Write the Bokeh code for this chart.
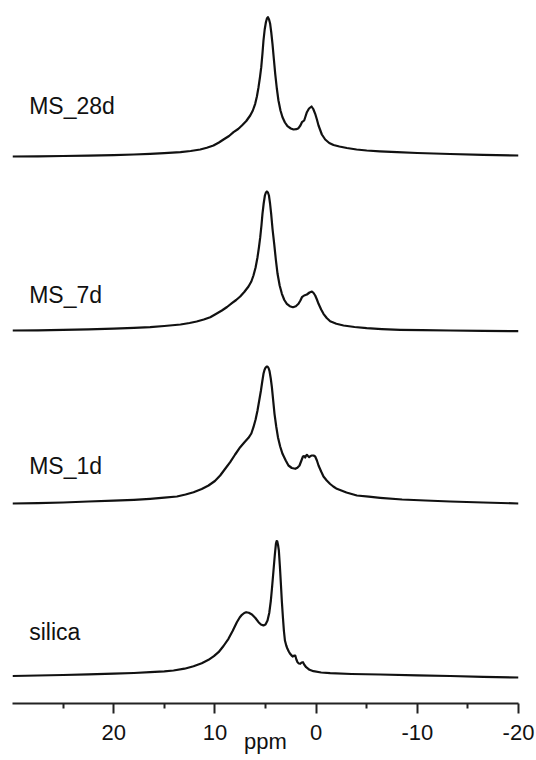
from bokeh.plotting import figure
from bokeh.models import Range1d, FixedTicker, ColumnDataSource
from bokeh.core.properties import value
from bokeh.embed import file_html
from bokeh.resources import INLINE

# ---- data ----
labels = ["MS_28d", "MS_7d", "MS_1d", "silica"]
offsets = [547.0, 373.0, 200.0, 27.5]   # vertical stacking offsets (a.u.)
label_gap = [51.0, 36.0, 38.0, 44.0]

ms28_ppm = [30.0, 27.5, 25.0, 22.5, 20.0, 18.0, 16.4, 15.0, 13.4, 12.4, 11.45, 10.8, 10.14, 9.6, 9.15,
            8.6, 8.16, 7.7, 7.33, 6.9, 6.51, 6.25, 6.02, 5.85, 5.69, 5.55, 5.42, 5.30, 5.20, 5.08,
            4.96, 4.86, 4.76, 4.65, 4.54, 4.43, 4.31, 4.17, 4.04, 3.88, 3.72, 3.52, 3.32, 3.08, 2.83,
            2.5, 2.23, 1.95, 1.74, 1.55, 1.40, 1.18, 1.05, 0.91, 0.70, 0.45, 0.28, 0.09, -0.08, -0.24,
            -0.57, -0.9, -1.3, -1.72, -2.3, -3.04, -4.0, -5.0, -6.3, -8.0, -10.0, -13.25, -16.5, -20.0]
ms28_int = [0.0, 0.2, 0.5, 0.9, 1.4, 2.0, 2.7, 3.4, 4.3, 5.5, 7.0, 8.8, 11.0, 14.0, 17.0,
            20.5, 24.3, 27.5, 31.0, 35.5, 41.0, 46.0, 52.7, 60.0, 69.3, 79.0, 89.3, 103.0, 116.0, 127.0,
            134.3, 138.0, 139.3, 137.0, 132.7, 124.0, 112.7, 97.0, 82.7, 68.0, 56.0, 46.0, 39.3, 34.0, 30.3,
            28.0, 27.0, 27.3, 28.3, 31.0, 34.3, 36.0, 40.0, 44.3, 48.0, 50.0, 47.5, 42.7, 37.0, 31.0,
            22.0, 17.0, 13.5, 11.5, 10.0, 8.5, 7.0, 6.0, 5.2, 4.3, 3.5, 2.5, 1.7, 1.0]

ms7_ppm = [30.0, 27.5, 25.0, 22.5, 20.0, 18.0, 16.4, 15.0, 13.4, 12.5, 11.8, 11.1, 10.46, 9.9, 9.31,
           8.8, 8.32, 7.9, 7.5, 7.1, 6.68, 6.4, 6.19, 5.98, 5.79, 5.65, 5.52, 5.40, 5.30, 5.18,
           5.06, 4.96, 4.86, 4.76, 4.66, 4.55, 4.44, 4.30, 4.14, 3.98, 3.81, 3.6, 3.38, 3.14, 2.89,
           2.6, 2.29, 2.0, 1.74, 1.55, 1.40, 1.18, 0.91, 0.65, 0.41, 0.25, 0.09, -0.08, -0.24, -0.5,
           -0.73, -1.05, -1.39, -2.0, -2.71, -3.8, -5.0, -6.5, -8.3, -10.5, -13.25, -16.5, -20.0]
ms7_int = [0.0, 0.2, 0.6, 1.1, 1.8, 2.6, 3.3, 4.5, 6.0, 7.5, 9.0, 11.0, 13.3, 16.5, 20.0,
           23.5, 27.3, 30.5, 34.0, 38.5, 44.0, 49.0, 55.0, 63.0, 73.3, 83.0, 93.3, 105.0, 116.7, 127.0,
           135.0, 138.0, 139.0, 138.0, 135.0, 127.0, 116.7, 101.0, 86.7, 71.0, 56.7, 45.0, 36.7, 30.5, 26.7,
           24.3, 23.3, 24.3, 26.7, 30.0, 33.3, 35.0, 36.0, 38.0, 39.0, 37.5, 35.0, 31.0, 26.7, 21.0,
           16.7, 12.5, 9.3, 6.8, 5.0, 3.5, 2.3, 1.4, 0.7, 0.3, 0.0, -0.4, -0.7]

ms1_ppm = [30.0, 27.5, 25.0, 22.5, 20.0, 18.0, 16.4, 15.0, 13.75, 12.9, 12.11, 11.3, 10.63, 10.0, 9.48,
           9.0, 8.49, 8.0, 7.5, 7.1, 6.68, 6.4, 6.19, 5.98, 5.79, 5.62, 5.45, 5.32, 5.20, 5.10,
           5.00, 4.90, 4.80, 4.70, 4.60, 4.48, 4.37, 4.24, 4.11, 3.94, 3.77, 3.55, 3.32, 3.0, 2.73,
           2.4, 2.06, 1.85, 1.64, 1.45, 1.30, 1.18, 1.08, 0.98, 0.91, 0.80, 0.68, 0.55, 0.41, 0.25,
           0.09, -0.08, -0.24, -0.5, -0.73, -1.05, -1.39, -1.7, -2.05, -3.0, -4.03, -5.2, -6.33, -8.5,
           -10.8, -13.25, -16.5, -20.0]
ms1_int = [0.0, 0.4, 1.0, 2.0, 2.8, 3.7, 4.7, 5.8, 7.0, 9.0, 11.3, 14.5, 18.0, 22.5, 28.0,
           34.5, 41.3, 49.0, 56.3, 61.0, 65.7, 70.0, 76.3, 84.0, 93.0, 103.0, 113.0, 122.0, 129.7, 133.5,
           135.7, 136.8, 137.0, 135.5, 132.3, 125.0, 116.3, 103.0, 89.7, 77.0, 66.3, 57.0, 49.7, 43.0, 38.0,
           35.5, 34.7, 35.8, 38.0, 43.0, 47.0, 47.5, 46.0, 48.0, 48.7, 47.5, 46.3, 47.5, 48.0, 48.0,
           47.0, 43.0, 38.0, 32.0, 27.0, 23.0, 19.5, 17.0, 14.7, 11.0, 8.0, 6.8, 5.7, 4.0,
           3.0, 2.0, 1.0, 0.0]

sil_ppm = [30.0, 27.5, 25.0, 22.5, 20.0, 18.0, 16.4, 15.0, 14.09, 13.0, 12.11, 11.3, 10.63, 10.1, 9.64,
           9.15, 8.66, 8.25, 7.83, 7.55, 7.33, 7.1, 6.91, 6.65, 6.34, 6.0, 5.69, 5.45, 5.20, 5.0,
           4.80, 4.63, 4.47, 4.34, 4.21, 4.08, 3.97, 3.90, 3.84, 3.76, 3.68, 3.58, 3.48, 3.38, 3.28,
           3.18, 3.08, 2.95, 2.83, 2.70, 2.56, 2.42, 2.29, 2.18, 2.06, 1.95, 1.84, 1.70, 1.57, 1.43,
           1.30, 1.15, 0.98, 0.65, 0.26, -0.5, -1.39, -3.5, -6.33, -10.0, -13.25, -16.5, -20.0]
sil_int = [0.0, 0.5, 1.0, 1.6, 2.3, 3.0, 3.8, 4.7, 5.5, 7.3, 9.8, 12.8, 16.2, 19.8, 23.8,
           30.0, 37.2, 45.0, 53.8, 58.5, 61.2, 63.0, 63.8, 63.2, 61.5, 58.0, 53.8, 51.5, 50.5, 51.5,
           55.5, 63.0, 75.5, 90.0, 105.5, 121.0, 132.2, 135.0, 134.8, 131.0, 125.5, 110.0, 92.2, 74.0, 58.8,
           45.0, 35.5, 30.5, 27.2, 24.5, 22.2, 20.5, 19.5, 20.5, 20.5, 16.5, 13.8, 12.5, 12.2, 13.5,
           13.8, 11.0, 8.8, 6.2, 4.8, 3.5, 2.8, 2.0, 1.5, 0.6, 0.0, -0.8, -1.5]

major_ticks = [20, 10, 0, -10, -20]
minor_ticks = [25, 15, 5, -5, -15]
tick_text = {20: "20", 10: "10", 0: "0", -10: "-10", -20: "-20"}

spectra = [(ms28_ppm, ms28_int), (ms7_ppm, ms7_int), (ms1_ppm, ms1_int), (sil_ppm, sil_int)]

p = figure(width=536, height=760, output_backend="svg", toolbar_location=None,
           x_range=Range1d(30, -20), y_range=Range1d(0, 703),
           min_border_left=12, min_border_right=18, min_border_top=0, min_border_bottom=57)
p.outline_line_color = None
p.grid.visible = False
p.yaxis.visible = False
p.background_fill_color = "white"
p.border_fill_color = "white"

for (xs, ys), off in zip(spectra, offsets):
    src = ColumnDataSource(dict(x=xs, y=[v + off for v in ys]))
    p.line("x", "y", source=src, line_color="#111111", line_width=2.2, line_join="round")

lab_src = ColumnDataSource(dict(x=[28.35] * len(labels),
                                y=[o + g for o, g in zip(offsets, label_gap)],
                                t=labels))
p.text("x", "y", text="t", source=lab_src, text_font=value("Liberation Sans"),
       text_font_size="23px", text_baseline="middle", text_align="left", text_color="#111111")

ax = p.xaxis[0]
ax.ticker = FixedTicker(ticks=major_ticks, minor_ticks=minor_ticks)
ax.major_label_overrides = tick_text
ax.axis_line_width = 2
ax.axis_line_color = "#222222"
ax.major_tick_line_width = 2
ax.minor_tick_line_width = 2
ax.major_tick_line_color = "#222222"
ax.minor_tick_line_color = "#222222"
ax.major_tick_out = 10
ax.major_tick_in = 0
ax.minor_tick_out = 5
ax.minor_tick_in = 0
ax.major_label_standoff = 11
ax.major_label_text_font = "Liberation Sans"
ax.major_label_text_font_size = "22px"
ax.major_label_text_color = "#111111"
ax.axis_label = "ppm"
ax.axis_label_standoff = -14
ax.axis_label_text_font = "Liberation Sans"
ax.axis_label_text_font_size = "22px"
ax.axis_label_text_font_style = "normal"
ax.axis_label_text_color = "#111111"

open("out.html", "w").write(file_html(p, INLINE))
